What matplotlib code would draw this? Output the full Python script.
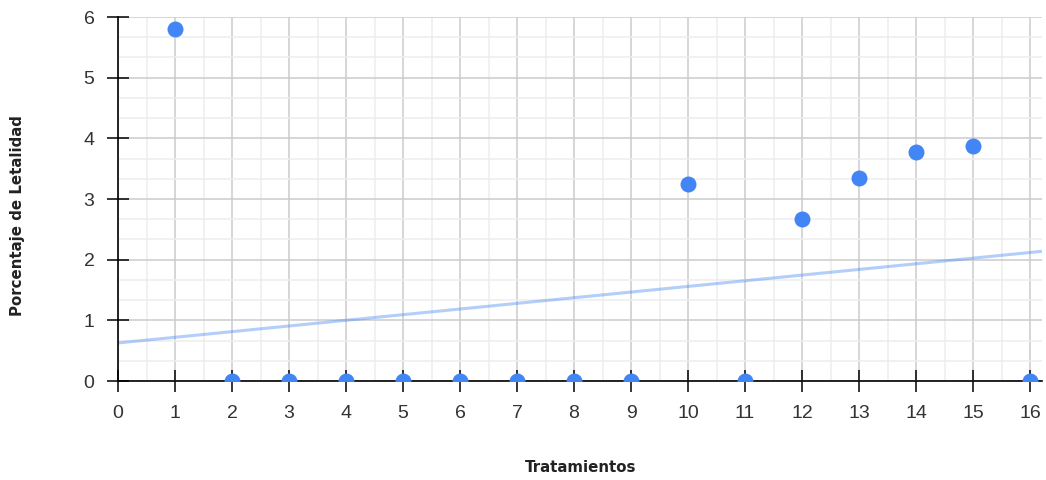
import numpy as np
import matplotlib
matplotlib.use("Agg")
import matplotlib.pyplot as plt
from matplotlib.ticker import MultipleLocator

# Data
tratamientos = [1, 2, 3, 4, 5, 6, 7, 8, 9, 10, 11, 12, 13, 14, 15, 16]
letalidad = [5.80, 0, 0, 0, 0, 0, 0, 0, 0, 3.25, 0, 2.67, 3.35, 3.77, 3.87, 0]
x_ticks = list(range(0, 17))
y_ticks = list(range(0, 7))

fig = plt.figure(figsize=(10.46, 4.8), dpi=100)
ax = fig.add_axes([118/1046, 99/480, (1042-118)/1046, (381-17)/480])

ax.set_xlim(0, 16.21)
ax.set_ylim(0, 6)

# Linear trendline (least squares of the data)
slope, intercept = np.polyfit(tratamientos, letalidad, 1)
xt = np.array(ax.get_xlim())
ax.plot(xt, intercept + slope * xt, color="#4285F4", alpha=0.4, lw=2.2,
        solid_capstyle="butt", zorder=2)

ax.plot(tratamientos, letalidad, "o", color="#4285F4", ms=11.5,
        markeredgewidth=0, zorder=3, clip_on=True)

ax.set_axisbelow(True)
ax.set_xticks(x_ticks)
ax.set_yticks(y_ticks)
ax.xaxis.set_minor_locator(MultipleLocator(0.5))
ax.yaxis.set_minor_locator(MultipleLocator(1/3))
ax.grid(which="major", color="#cccccc", lw=1.1)
ax.grid(which="minor", color="#ededed", lw=1.1)

for s in ["top", "right"]:
    ax.spines[s].set_visible(False)
for s in ["left", "bottom"]:
    ax.spines[s].set_color("black")
    ax.spines[s].set_linewidth(1.2)

ax.tick_params(which="major", direction="inout", length=16, width=1.1,
               color="black", pad=9, labelsize=14, labelcolor="#333333")
ax.tick_params(which="minor", length=0)
for lab in ax.get_xticklabels() + ax.get_yticklabels():
    lab.set_fontfamily("Liberation Sans")

fig.text(581/1046, 1 - 468/480, "Tratamientos", ha="center", va="center",
         fontsize=10.8, fontweight="bold", family="DejaVu Sans", color="#222222")
fig.text(18/1046, 1 - 216/480, "Porcentaje de Letalidad", ha="center", va="center",
         rotation=90, fontsize=10.8, fontweight="bold", family="DejaVu Sans",
         color="#222222")

fig.savefig("out.png", dpi=100)
